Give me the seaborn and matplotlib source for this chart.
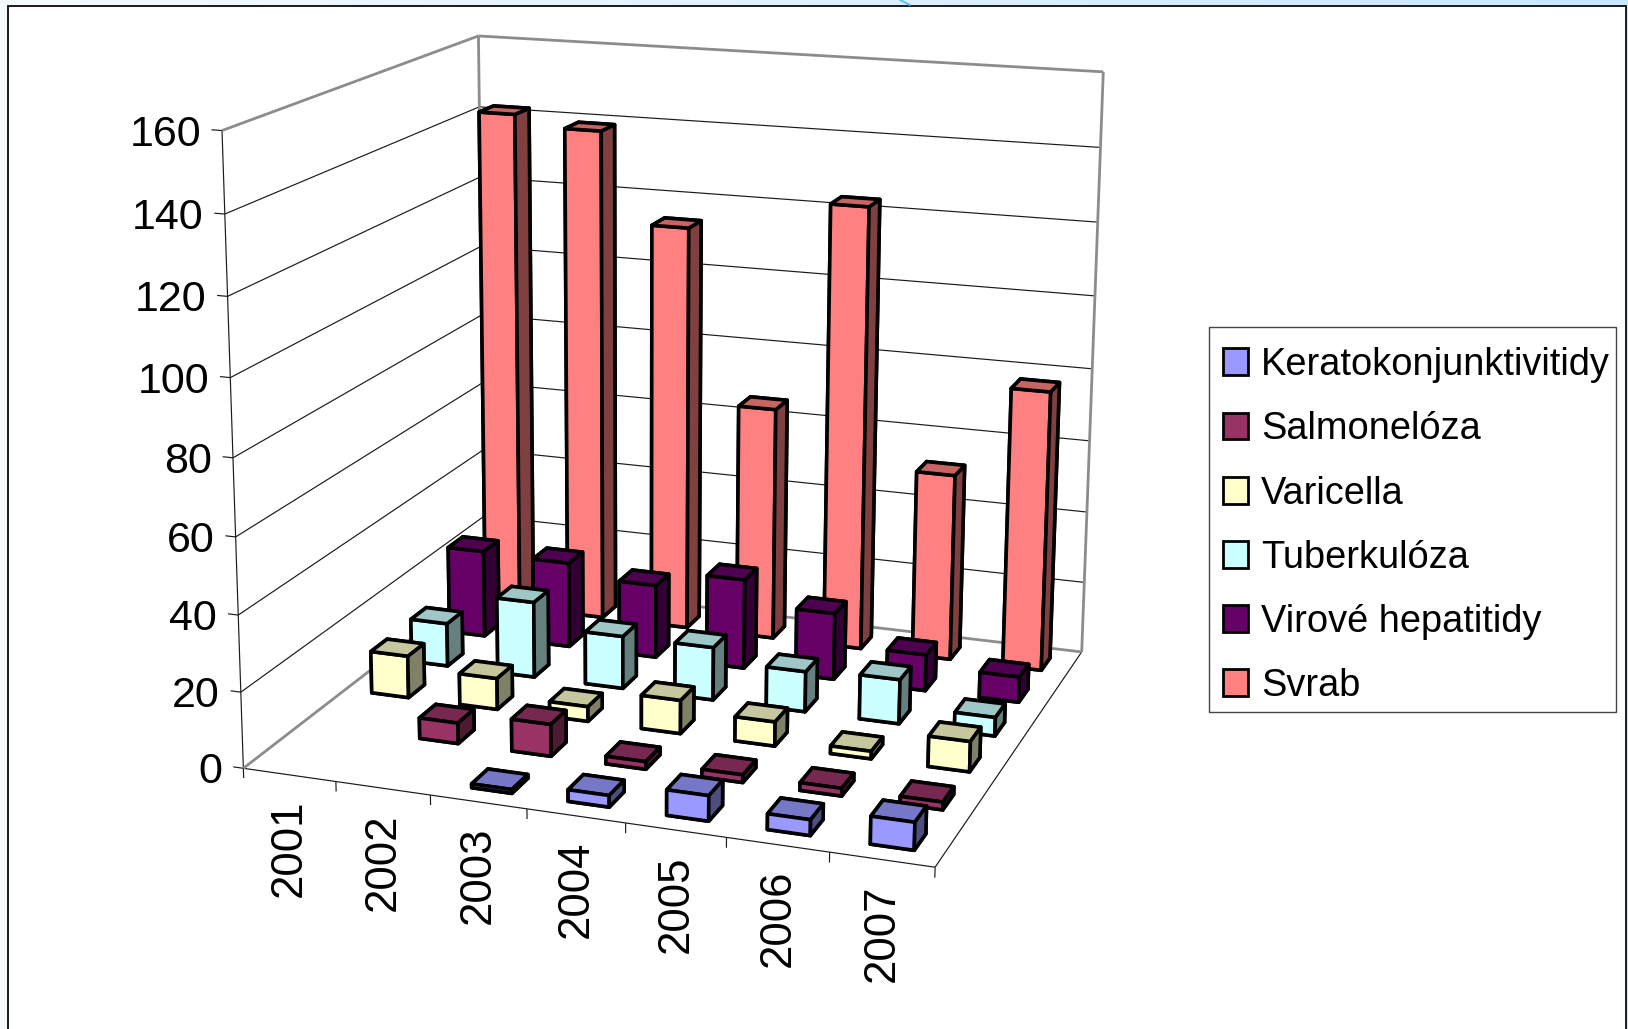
import numpy as np
import seaborn as sns
import matplotlib
matplotlib.use("Agg")
import matplotlib.pyplot as plt
from matplotlib.lines import Line2D
from matplotlib.patches import Patch, Rectangle
from mpl_toolkits.mplot3d import Axes3D
from mpl_toolkits.mplot3d.art3d import Line3DCollection

years = ["2001", "2002", "2003", "2004", "2005", "2006", "2007"]
y_ticks = [0, 20, 40, 60, 80, 100, 120, 140, 160]

# series go from the front row to the back row
series_names = ["Keratokonjunktivitidy", "Salmonelóza", "Varicella", "Tuberkulóza", "Virové hepatitidy", "Svrab"]
keratokonjunktivitidy = [0, 0, 1, 3, 6.5, 4, 7]
salmoneloza = [0, 5.5, 8.5, 2, 2, 2, 2]
varicella = [11.5, 8.5, 4, 9, 6.5, 2, 8]
tuberkuloza = [12, 21, 14.5, 14.5, 11, 12, 5]
virove_hepatitidy = [24.5, 24, 20.5, 25, 18.5, 10, 7]
svrab = [142, 139, 114, 65.5, 123.5, 52, 77.5]
all_series = [keratokonjunktivitidy, salmoneloza, varicella, tuberkuloza, virove_hepatitidy, svrab]

face_colors = ["#9999FF", "#993366", "#FFFFCC", "#CCFFFF", "#660066", "#FF8080"]

W, H = 1628, 1029
sns.set_theme(style="white")
plt.rcParams["font.family"] = ["Liberation Sans", "DejaVu Sans"]

# floor/wall corners seen in the picture, used to work out the camera
calib_world = np.array([
    [0, 0, 0], [7, 0, 0], [7, 6, 0], [0, 6, 0],
    [0, 0, 160], [0, 6, 160], [7, 6, 160],
    [0, 0, 60], [0, 0, 120], [3, 0, 0], [5, 0, 0],
], dtype=float)
calib_px = np.array([
    [243.3, 767.7], [934, 868], [1082.3, 650.7], [483.6, 582.4],
    [220, 131], [480, 36], [1103, 72],
    [238, 536], [227, 296], [527.7, 809], [727, 838],
], dtype=float)


def fit_camera(world, px):
    scale = np.array([1 / 7, 1 / 6, 1 / 160, 1.0])
    rows = []
    for (a, b, c), (u, v) in zip(world, px):
        p = np.array([a, b, c, 1.0]) * scale
        u, v = u / 1000, v / 1000
        rows.append(np.r_[p, np.zeros(4), -u * p])
        rows.append(np.r_[np.zeros(4), p, -v * p])
    cam = np.linalg.svd(np.array(rows))[2][-1].reshape(3, 4) * scale
    cam[:2] *= 1000
    if cam[2, 3] < 0:
        cam = -cam
    return cam


cam = fit_camera(calib_world, calib_px)


def to_px(a, b, c):
    u, v, w = cam @ np.array([a, b, c, 1.0])
    return u / w, v / w


fig = plt.figure(figsize=(W / 100, H / 100), dpi=100, facecolor="white")

# window background around the chart frame
strip = np.linspace(0, 1, 256)[None, :, None] * (np.array([0.78, 0.91, 1.0]) - np.array([0.96, 0.98, 1.0])) + np.array([0.96, 0.98, 1.0])
bg = fig.add_axes([0, 0, 1, 1], zorder=-5)
bg.imshow(strip, aspect="auto", extent=(0, W, 0, H))
bg.set_axis_off()
fig.add_artist(Rectangle((7.5 / W, -0.05), (1625.5 - 7.5) / W, 1.05 - 5.5 / H, transform=fig.transFigure,
                         fc="white", ec="#1A1A1A", lw=1.4, zorder=-2))
fig.add_artist(Line2D([900 / W, 910 / W], [1, 1 - 5 / H], transform=fig.transFigure, color="#5BBEF5", lw=1.4, zorder=-1))

ax = fig.add_axes([0, 0, 1, 1], projection="3d")
ax.apply_aspect = lambda position=None: None
ax.set_axis_off()
ax.patch.set_alpha(0)
ax.computed_zorder = False


def get_proj():
    # pixel camera -> the axes' own 2D view coordinates
    px_to_view = ax.transData.inverted().get_matrix()
    flip = np.array([[1, 0, 0], [0, -1, H], [0, 0, 1.0]])
    m = px_to_view @ flip @ cam
    depth = np.array([-1 / 7, 1 / 6, -1 / 160, 3.0]) * 0.2
    return np.vstack([m[0], m[1], depth, m[2]])


ax.get_proj = get_proj

GREY = "#8C8C8C"
DARK = "#1A1A1A"

thin = []
for v in y_ticks[1:-1]:
    thin.append([(0, 0, v), (0, 6, v)])
    thin.append([(0, 6, v), (7, 6, v)])
for v in y_ticks:
    thin.append([(-0.11, 0, v), (0, 0, v)])
for i in range(len(years) + 1):
    thin.append([(i, 0, 0), (i, 0, -2.6)])
thin.append([(0, 0, 0), (0, 0, 160)])
thin.append([(0, 0, 0), (7, 0, 0)])
thin.append([(7, 0, 0), (7, 6, 0)])
ax.add_collection3d(Line3DCollection(thin, colors=DARK, linewidths=0.85, zorder=1))

wall_edges = [
    [(0, 0, 0), (0, 6, 0)], [(0, 6, 0), (7, 6, 0)], [(7, 6, 0), (7, 6, 160)], [(0, 6, 0), (0, 6, 160)],
    [(0, 0, 160), (0, 6, 160)], [(0, 6, 160), (7, 6, 160)],
]
ax.add_collection3d(Line3DCollection(wall_edges, colors=GREY, linewidths=2.0, zorder=1.5))

# bars, back row first so the nearer rows paint over it
z = 2
for row in range(len(all_series) - 1, -1, -1):
    base = sns.color_palette([face_colors[row]])[0]
    front = base
    top = tuple(c * 0.78 for c in base)
    side = tuple(c * 0.5 for c in base)
    # order of bar3d faces: bottom, top, front, back, left, right
    colors = [side, top, front, side, side, side]
    for col, value in enumerate(all_series[row]):
        if value <= 0:
            continue
        ax.bar3d(col + 0.3, row + 0.3, 0, 0.42, 0.4, value, color=colors, shade=False,
                 edgecolor="black", linewidth=2.6, zorder=z)
        z += 1

for v in y_ticks:
    px, py = to_px(0, 0, v)
    ax.text2D((px - 21) / W, 1 - (py + 4) / H, str(v), transform=fig.transFigure,
              ha="right", va="center", fontsize=31, color="black")
for i, year in enumerate(years):
    px, py = to_px(i + 0.5, 0, 0)
    ax.text2D(px / W, 1 - (py + 25) / H, year, transform=fig.transFigure, rotation=90,
              ha="center", va="top", fontsize=31.5, color="black")

fig.add_artist(Rectangle((1209.3 / W, 1 - 711.7 / H), (1616 - 1209.3) / W, (711.7 - 326.7) / H,
                         transform=fig.transFigure, fc="white", ec="#444444", lw=1.0, zorder=-1))
handles = [Patch(facecolor=c, edgecolor="black", linewidth=2.0) for c in face_colors]
fig.legend(handles, series_names, loc="lower left", bbox_to_anchor=(1222.5 / W, 1 - 704 / H),
           fontsize=27.4, frameon=False, borderaxespad=0, borderpad=0, labelspacing=0.74,
           handlelength=0.66, handleheight=0.71, handletextpad=0.36, labelcolor="black")

fig.savefig("out.png", dpi=100)
